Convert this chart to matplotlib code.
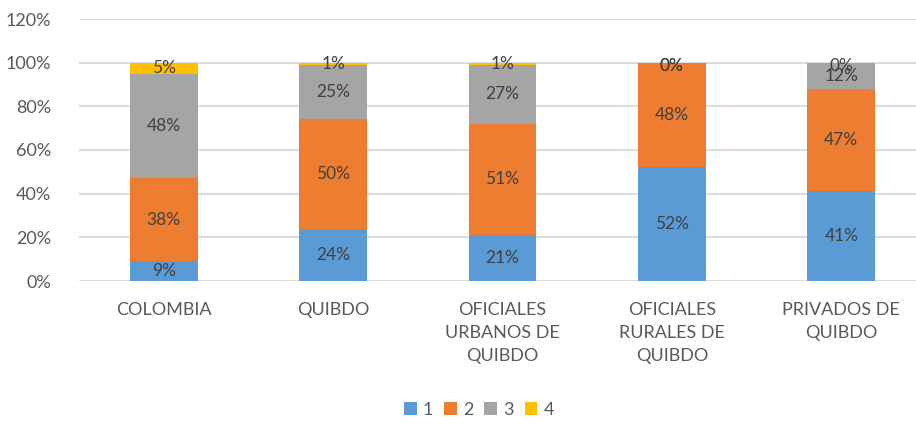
import matplotlib.pyplot as plt
import numpy as np

plt.rcParams['font.family'] = ['Lato', 'DejaVu Sans']

# ----------------- data -----------------
categories = ["COLOMBIA", "QUIBDO", "OFICIALES\nURBANOS DE\nQUIBDO",
              "OFICIALES\nRURALES DE\nQUIBDO", "PRIVADOS DE\nQUIBDO"]
series_names = ["1", "2", "3", "4"]
s1 = [9, 24, 21, 52, 41]
s2 = [38, 50, 51, 48, 47]
s3 = [48, 25, 27, 0, 12]
s4 = [5, 1, 1, 0, 0]
colors = ["#5B9BD5", "#ED7D31", "#A5A5A5", "#FFC000"]
y_ticks = [0, 20, 40, 60, 80, 100, 120]
# ----------------------------------------

W, H = 916, 442
fig = plt.figure(figsize=(W / 100, H / 100), dpi=100)
# plot area: left 79px, top 19px, bottom 281px; right runs past the image edge
ax = fig.add_axes([79 / W, 1 - 281 / H, (926 - 79) / W, (281 - 19) / H])

x = np.arange(len(categories))
bottom = np.zeros(len(categories))
for name, vals, col in zip(series_names, [s1, s2, s3, s4], colors):
    vals = np.array(vals, dtype=float)
    ax.bar(x, vals, 0.4, bottom=bottom, color=col, label=name, zorder=3)
    for xi, b, v in zip(x, bottom, vals):
        ax.text(xi, b + v / 2 if v > 0 else b - 1.5, f"{int(v)}%", ha="center", va="center",
                fontsize=12.5, color="#404040", zorder=4)
    bottom += vals

ax.set_xlim(-0.5, len(categories) - 0.5)
ax.set_ylim(0, 120)
ax.set_yticks(y_ticks)
ax.set_yticklabels([f"{t}%" for t in y_ticks])
ax.yaxis.grid(True, color="#D9D9D9", linewidth=1.3, zorder=0)
ax.set_axisbelow(True)
for sp in ax.spines.values():
    sp.set_visible(False)
ax.tick_params(axis="both", length=0, labelsize=13, colors="#595959")
ax.tick_params(axis="y", pad=20)
ax.set_xticks(x)
ax.set_xticklabels(categories, linespacing=1.55, va="top")
ax.tick_params(axis="x", pad=15)

handles, labels = ax.get_legend_handles_labels()
fig.legend(handles, labels, loc="center", bbox_to_anchor=(479 / W, 1 - 410 / H), ncol=4,
           frameon=False, fontsize=13, handlelength=0.7, handleheight=0.7,
           handletextpad=0.35, columnspacing=0.6, labelcolor="#595959")

fig.savefig("out.png", dpi=100)
